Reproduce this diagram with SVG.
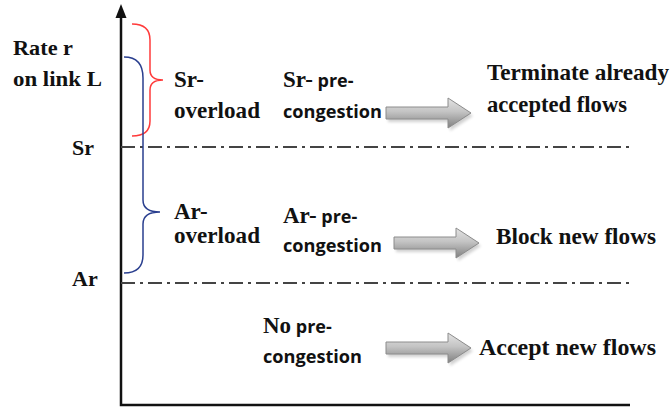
<svg xmlns="http://www.w3.org/2000/svg" width="672" height="408" viewBox="0 0 672 408">
  <style>
    .serif { font-family: "Liberation Serif", "Times New Roman", serif; font-weight: bold; font-size: 22px; fill: #111; }
    .big { font-size: 23px; }
    .sans { font-family: "Open Sans", "Liberation Sans", sans-serif; font-weight: bold; font-size: 18px; fill: #111; }
    .axis { stroke: #111; stroke-width: 2.5; fill: none; }
    .level { stroke: #444; stroke-width: 2; fill: none; stroke-dasharray: 14 5 3 5; }
    .fat { fill: url(#fatGrad); stroke: #8c8c8c; stroke-width: 1; }
    .shadow { fill: #000; opacity: 0.18; filter: url(#soft); }
  </style>
  <defs>
    <linearGradient id="fatGrad" x1="0" y1="0" x2="0" y2="1">
      <stop offset="0" stop-color="#e4e4e4"/>
      <stop offset="0.45" stop-color="#c4c4c4"/>
      <stop offset="1" stop-color="#808080"/>
    </linearGradient>
    <filter id="soft" x="-10%" y="-30%" width="120%" height="160%">
      <feGaussianBlur stdDeviation="1.5"/>
    </filter>
    <path id="fatArrow" d="M0,-6 L62,-6 L62,-15 L85,0 L62,15 L62,6 L0,6 Z"/>
  </defs>

  <!-- axes -->
  <g id="axes">
    <path class="axis" d="M121,14 L121,405 L630,405"/>
    <polygon points="121,4 115.5,18 126.5,18" fill="#111"/>
  </g>

  <!-- threshold levels -->
  <g id="levels">
    <line class="level" x1="121" y1="147" x2="632" y2="147"/>
    <line class="level" x1="121" y1="283" x2="634" y2="283"/>
  </g>

  <!-- axis labels -->
  <g id="axis-labels">
    <text class="serif" x="13" y="55" textLength="60" lengthAdjust="spacingAndGlyphs">Rate r</text>
    <text class="serif" x="13" y="86" textLength="89" lengthAdjust="spacingAndGlyphs">on link L</text>
    <text class="serif" x="72" y="155">Sr</text>
    <text class="serif" x="72" y="286">Ar</text>
  </g>

  <!-- range braces -->
  <g id="sr-brace">
    <path d="M132,24 Q150,24 150,40 L150,70 Q150,80 163,80 Q150,80 150,90 L150,121 Q150,136 132,136" fill="none" stroke="#ff3b3b" stroke-width="1.5"/>
  </g>
  <g id="ar-brace">
    <path d="M124,57 Q143,57 143,78 L143,200 Q143,212 160,212 Q143,212 143,224 L143,255 Q143,273 124,273" fill="none" stroke="#2a3f8f" stroke-width="1.5"/>
  </g>

  <!-- overload regions -->
  <g id="sr-overload">
    <text class="serif big" x="174" y="87">Sr-</text>
    <text class="serif big" x="174" y="118" textLength="86" lengthAdjust="spacingAndGlyphs">overload</text>
  </g>
  <g id="ar-overload">
    <text class="serif big" x="174" y="219">Ar-</text>
    <text class="serif big" x="174" y="243" textLength="86" lengthAdjust="spacingAndGlyphs">overload</text>
  </g>

  <!-- congestion states -->
  <g id="sr-precongestion">
    <text x="283" y="87"><tspan class="serif big">Sr-</tspan><tspan class="sans"> pre-</tspan></text>
    <text class="sans" x="283" y="118" textLength="99" lengthAdjust="spacingAndGlyphs">congestion</text>
  </g>
  <g id="ar-precongestion">
    <text x="283" y="223"><tspan class="serif big">Ar-</tspan><tspan class="sans"> pre-</tspan></text>
    <text class="sans" x="283" y="252" textLength="99" lengthAdjust="spacingAndGlyphs">congestion</text>
  </g>
  <g id="no-precongestion">
    <text x="263" y="333"><tspan class="serif big">No</tspan><tspan class="sans"> pre-</tspan></text>
    <text class="sans" x="263" y="363" textLength="99" lengthAdjust="spacingAndGlyphs">congestion</text>
  </g>

  <!-- actions -->
  <g id="terminate">
    <text class="serif big" x="487" y="80" textLength="182" lengthAdjust="spacingAndGlyphs">Terminate already</text>
    <text class="serif big" x="487" y="112" textLength="140" lengthAdjust="spacingAndGlyphs">accepted flows</text>
  </g>
  <g id="block">
    <text class="serif big" x="496" y="244" textLength="160" lengthAdjust="spacingAndGlyphs">Block new flows</text>
  </g>
  <g id="accept">
    <text class="serif big" x="479" y="355" textLength="177" lengthAdjust="spacingAndGlyphs">Accept new flows</text>
  </g>

  <!-- block arrows from state to action -->
  <g id="connectors">
    <g transform="translate(386,113)">
      <use href="#fatArrow" class="shadow" transform="translate(2,3)"/>
      <use href="#fatArrow" class="fat"/>
    </g>
    <g transform="translate(394,243)">
      <use href="#fatArrow" class="shadow" transform="translate(2,3)"/>
      <use href="#fatArrow" class="fat"/>
    </g>
    <g transform="translate(386,348)">
      <use href="#fatArrow" class="shadow" transform="translate(2,3)"/>
      <use href="#fatArrow" class="fat"/>
    </g>
  </g>
</svg>
